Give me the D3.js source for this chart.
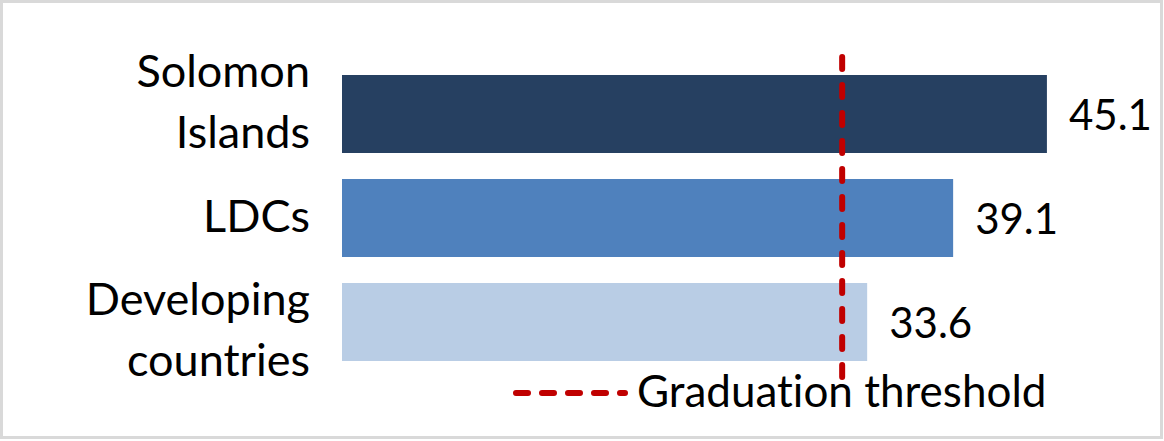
<!DOCTYPE html>
<html>
<head>
<meta charset="utf-8">
<script src="https://cdn.jsdelivr.net/npm/d3@7"></script>
<style>
  body { margin: 0; background: #fff; }
  text { font-family: Lato, "Open Sans", sans-serif; fill: #000; font-variant-ligatures: none; }
</style>
</head>
<body>
<div id="chart"></div>
<script>
// Data
const categories = ["Solomon Islands", "LDCs", "Developing countries"];
const labelLines = [["Solomon", "Islands"], ["LDCs"], ["Developing", "countries"]];
const values = [45.1, 39.1, 33.6];
const barColors = ["#264061", "#4f81bd", "#b9cde5"];
const threshold = 32;
const legendLabel = "Graduation threshold";

// Dimensions
const dimensions = { width: 1164, height: 441 };

const svg = d3
  .select("#chart")
  .append("svg")
  .attr("width", dimensions.width)
  .attr("height", dimensions.height);

// Frame
svg
  .append("rect")
  .attr("x", 1.5)
  .attr("y", 1.5)
  .attr("width", dimensions.width - 4)
  .attr("height", dimensions.height - 5)
  .attr("fill", "#fff")
  .attr("stroke", "#d9d9d9")
  .attr("stroke-width", 3);

// Scales
const xScale = d3.scaleLinear().domain([0, 50]).range([342, 1123.5]);

const yScale = d3
  .scaleBand()
  .domain(categories)
  .range([62, 374])
  .paddingInner(0.25)
  .paddingOuter(0.125);

// category labels sit a little more spread than the bars
const labelScale = d3.scaleBand().domain(categories).range([45.4, 388.1]);

// Bars
svg
  .append("g")
  .selectAll("rect")
  .data(categories)
  .join("rect")
  .attr("x", xScale(0))
  .attr("y", (d) => yScale(d))
  .attr("width", (d, i) => xScale(values[i]) - xScale(0))
  .attr("height", yScale.bandwidth())
  .attr("fill", (d, i) => barColors[i]);

// Value labels
svg
  .append("g")
  .selectAll("text")
  .data(categories)
  .join("text")
  .attr("x", (d, i) => xScale(values[i]) + 22)
  .attr("y", (d) => yScale(d) + yScale.bandwidth() / 2 + 16)
  .attr("font-size", 42)
  .text((d, i) => values[i].toFixed(1));

// Category labels
const lineGap = 61;
svg
  .append("g")
  .selectAll("text")
  .data(categories)
  .join("text")
  .attr("text-anchor", "end")
  .attr("font-size", 45)
  .each(function (d, i) {
    const lines = labelLines[i];
    const mid = labelScale(d) + labelScale.bandwidth() / 2 + 15;
    d3.select(this)
      .selectAll("tspan")
      .data(lines)
      .join("tspan")
      .attr("x", 310)
      .attr("y", (l, j) => mid + (j - (lines.length - 1) / 2) * lineGap)
      .text((l) => l);
  });

// Threshold line
svg
  .append("line")
  .attr("x1", xScale(threshold))
  .attr("x2", xScale(threshold))
  .attr("y1", 57)
  .attr("y2", 381)
  .attr("stroke", "#c00000")
  .attr("stroke-width", 6)
  .attr("stroke-linecap", "round")
  .attr("stroke-dasharray", "12,16");

// Legend
const legend = svg.append("g").attr("transform", "translate(513, 393)");
legend
  .append("line")
  .attr("x1", 3)
  .attr("x2", 112)
  .attr("stroke", "#c00000")
  .attr("stroke-width", 6)
  .attr("stroke-linecap", "round")
  .attr("stroke-dasharray", "12,14");
legend
  .append("text")
  .attr("x", 124)
  .attr("y", 14)
  .attr("font-size", 44)
  .text(legendLabel);
</script>
</body>
</html>
